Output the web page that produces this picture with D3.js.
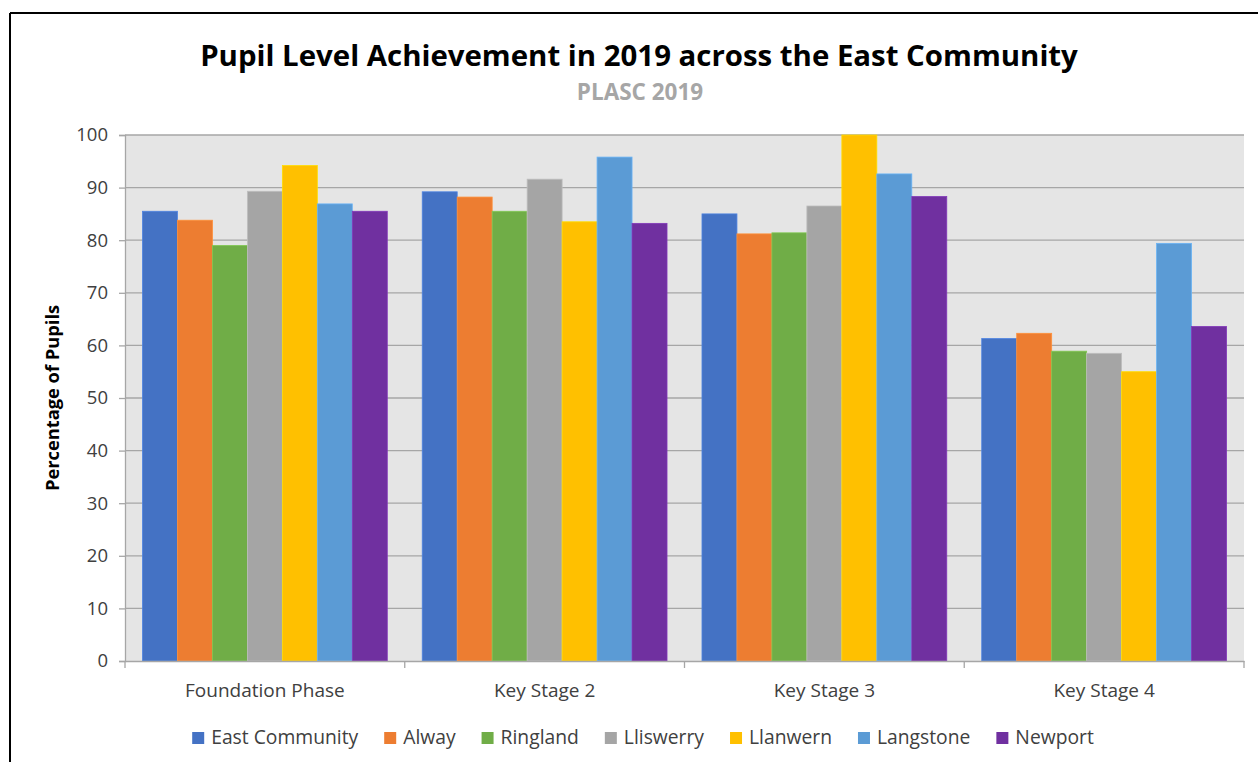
<!DOCTYPE html>
<html><head><meta charset="utf-8">
<script src="https://cdn.jsdelivr.net/npm/d3@7"></script>
<style>body{margin:0;background:#fff}svg{display:block}</style>
</head><body>
<script>
const categories = ["Foundation Phase","Key Stage 2","Key Stage 3","Key Stage 4"];
const seriesNames = ["East Community","Alway","Ringland","Lliswerry","Llanwern","Langstone","Newport"];
const eastCommunity = [85.5, 89.2, 85.0, 61.3];
const alway        = [83.8, 88.2, 81.2, 62.3];
const ringland     = [79.0, 85.5, 81.4, 58.9];
const lliswerry    = [89.3, 91.6, 86.5, 58.5];
const llanwern     = [94.2, 83.5, 100.0, 55.0];
const langstone    = [86.9, 95.8, 92.6, 79.4];
const newport      = [85.5, 83.2, 88.3, 63.6];
const yTicks = [0,10,20,30,40,50,60,70,80,90,100];
const colors = ["#4472C4","#ED7D31","#70AD47","#A5A5A5","#FFC000","#5B9BD5","#7030A0"];
const seriesValues = [eastCommunity, alway, ringland, lliswerry, llanwern, langstone, newport];

const W = 1258, H = 762;
const font = "'Open Sans', sans-serif";
const svg = d3.select("body").append("svg").attr("width", W).attr("height", H);

// outer frame
svg.append("line").attr("x1",10).attr("x2",W).attr("y1",13).attr("y2",13).attr("stroke","#000").attr("stroke-width",2);
svg.append("line").attr("x1",10).attr("x2",10).attr("y1",13).attr("y2",H).attr("stroke","#000").attr("stroke-width",2);

const m = {left:125, right:1244, top:135, bottom:661};
const x0 = d3.scaleBand().domain(categories).range([m.left, m.right]).paddingInner(0).paddingOuter(0);
const x1 = d3.scaleBand().domain(seriesNames).range([0, x0.bandwidth()]).paddingInner(0).paddingOuter(0.5);
const y = d3.scaleLinear().domain([0,100]).range([m.bottom, m.top]);

// background
svg.append("rect").attr("x",m.left).attr("y",m.top).attr("width",m.right-m.left).attr("height",m.bottom-m.top).attr("fill","#E5E5E5");

// gridlines
svg.append("g").selectAll("line").data(yTicks.filter(d=>d>0)).join("line")
  .attr("x1",m.left).attr("x2",m.right).attr("y1",d=>y(d)).attr("y2",d=>y(d))
  .attr("stroke","#A6A6A6").attr("stroke-width",1.3);

// bars
const groups = svg.append("g").selectAll("g").data(categories).join("g")
  .attr("transform", d => `translate(${x0(d)},0)`);
groups.selectAll("rect").data((c,ci) => seriesNames.map((s,si)=>({s, si, v: seriesValues[si][ci]}))).join("rect")
  .attr("x", d => x1(d.s)).attr("width", x1.bandwidth())
  .attr("y", d => y(d.v)).attr("height", d => y(0)-y(d.v))
  .attr("fill", d => colors[d.si])
  .attr("stroke", d => d3.color(colors[d.si]).brighter(0.4)).attr("stroke-width",0.8);

// y axis
const yAxis = d3.axisLeft(y).tickValues(yTicks).tickSize(6).tickPadding(11);
const gy = svg.append("g").attr("transform",`translate(${m.left},0)`).call(yAxis);
gy.select(".domain").attr("stroke","#A6A6A6").attr("stroke-width",1.3);
gy.selectAll(".tick line").attr("stroke","#A6A6A6").attr("stroke-width",1.3);
gy.selectAll("text").attr("font-family",font).attr("font-size",18.5).attr("fill","#404040");

// x axis
const xAxis = d3.axisBottom(x0).tickSize(0).tickPadding(23);
const gx = svg.append("g").attr("transform",`translate(0,${m.bottom})`).call(xAxis);
gx.select(".domain").attr("stroke","#A6A6A6").attr("stroke-width",1.3);
gx.selectAll("text").attr("font-family",font).attr("font-size",19).attr("fill","#404040");
svg.append("g").selectAll("line").data(x0.domain().map(c=>x0(c)).concat([m.right])).join("line")
  .attr("x1",d=>d).attr("x2",d=>d).attr("y1",m.bottom).attr("y2",m.bottom+7)
  .attr("stroke","#A6A6A6").attr("stroke-width",1.3);

// titles
svg.append("text").attr("x",639).attr("y",66).attr("text-anchor","middle")
  .attr("font-family",font).attr("font-weight","bold").attr("font-size",29.4)
  .attr("fill","#000").text("Pupil Level Achievement in 2019 across the East Community");
svg.append("text").attr("x",640).attr("y",100).attr("text-anchor","middle")
  .attr("font-family",font).attr("font-weight","bold").attr("font-size",22.5)
  .attr("fill","#A6A6A6").text("PLASC 2019");
svg.append("text").attr("transform","translate(59,398) rotate(-90)").attr("text-anchor","middle")
  .attr("font-family",font).attr("font-weight","bold").attr("font-size",18.3)
  .attr("fill","#000").text("Percentage of Pupils");

// legend
const lg = svg.append("g");
const items = lg.selectAll("g").data(seriesNames).join("g");
items.append("rect").attr("width",12).attr("height",12).attr("y",-12).attr("fill",(d,i)=>colors[i]);
items.append("text").attr("x",19).attr("y",0).attr("font-family",font).attr("font-size",19.3)
  .attr("fill","#404040").text(d=>d);
let cx = 0; const pos = [];
items.each(function(){ const w = this.querySelector("text").getComputedTextLength(); pos.push(cx); cx += 19 + w + 26; });
const total = cx - 26;
const startX = 643 - total/2;
items.attr("transform",(d,i)=>`translate(${startX+pos[i]},744)`);
</script>
</body></html>
